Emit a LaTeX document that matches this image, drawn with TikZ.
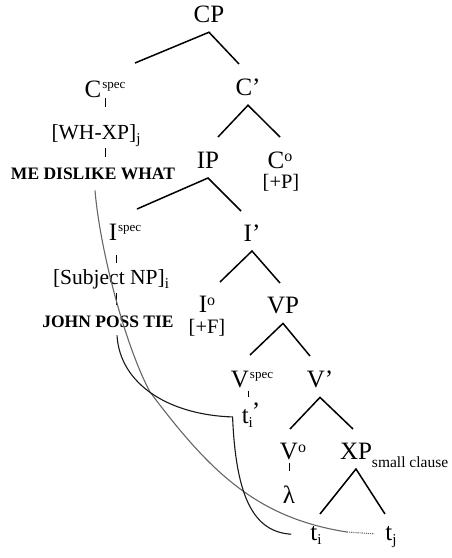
\documentclass[tikz,border=0pt]{standalone}
\usepackage{fontspec}
\setmainfont{Liberation Serif}
\usetikzlibrary{positioning}
\usetikzlibrary{calc}
\tikzset{>=stealth}
\tikzstyle{cat} = [inner sep=0pt,
anchor=base,
font=\fontsize{25}{27}\selectfont]
\tikzstyle{phrase} = [cat,
outer ysep=10pt]
\tikzstyle{lex} = [inner sep=0pt,
anchor=base,
font=\fontsize{21.5}{23}\selectfont]
\tikzstyle{gloss} = [inner sep=0pt,
anchor=base,
font=\fontsize{17.5}{19}\selectfont\bfseries]
\tikzstyle{feat} = [inner sep=0pt,
anchor=base,
font=\fontsize{20.5}{22}\selectfont]
\newcommand{\catspec}[1]{#1\kern1pt\raisebox{8.5pt}{\fontsize{13}{13}\selectfont spec}}
\newcommand{\catzero}[1]{#1\raisebox{7pt}{\fontsize{16}{16}\selectfont o}}
\newcommand{\idx}[1]{\raisebox{-4.5pt}{\fontsize{15}{15}\selectfont #1}}

\begin{document}
\begin{tikzpicture}[x=1pt, y=-1pt,
	stem/.style={draw, line width=1pt},
	branch/.style={draw, line width=1.5pt},
	movei/.style={draw, line width=1.1pt, black!90},
	movej/.style={draw, line width=1.1pt, black!60}]
	\useasboundingbox (0,0) rectangle (452,558);
	%% Categories
	\node [phrase] (CP) at (209,22) {CP};
	\node [cat] (Cspec) at (105,97) {\catspec{C}};
	\node [phrase] (Cbar) at (248,95) {C’};
	\node [phrase] (IP) at (208,168) {IP};
	\node [cat] (Czero) at (280,168) {\catzero{C}};
	\node [feat] (Pfeat) at (281,188) {[+P]};
	\node [cat] (Ispec) at (125,240) {\catspec{I}};
	\node [phrase] (Ibar) at (252,241) {I’};
	\node [cat] (Izero) at (207,312) {\catzero{I}};
	\node [feat] (Ffeat) at (207,333) {[+F]};
	\node [phrase] (VP) at (283,313) {VP};
	\node [cat] (Vspec) at (252,387) {\catspec{V}};
	\node [phrase] (Vbar) at (320,387) {V’};
	\node [cat] (Vzero) at (293,459) {\catzero{V}};
	\node [phrase] (XP) at (356,459) {XP\rlap{\raisebox{-8pt}[0pt][0pt]{\fontsize{15.5}{15.5}\selectfont small clause}}};
	%% Lexical material and traces
	\node [lex] (whxp) at (96,139) {[WH-XP]\idx{j}};
	\node [gloss] (wh-gloss) at (93,179) {ME DISLIKE WHAT};
	\node [lex] (subj) at (111,284) {[Subject NP]\idx{i}};
	\node [gloss] (subj-gloss) at (108,327) {JOHN POSS TIE};
	\node [cat] (ti-int) at (251,423) {t\idx{i}\kern-1pt\raisebox{4pt}{’}};
	\node [cat] (lambda) at (289,503) {λ};
	\node [cat] (ti) at (316,540) {t\idx{i}};
	\node [cat] (tj) at (391,540) {t\idx{j}};
	%% Branch feet
	\coordinate (CP-l) at (135,63);
	\coordinate (CP-r) at (239,64);
	\coordinate (Cbar-l) at (218,137);
	\coordinate (Cbar-r) at (280,137);
	\coordinate (IP-l) at (137,209);
	\coordinate (IP-r) at (241,211);
	\coordinate (Ibar-l) at (220,282);
	\coordinate (Ibar-r) at (280,283);
	\coordinate (VP-l) at (250,355);
	\coordinate (VP-r) at (310,356);
	\coordinate (Vbar-l) at (290,429);
	\coordinate (Vbar-r) at (353,429);
	\coordinate (XP-l) at (320,514);
	\coordinate (XP-r) at (385,514);
	%% Branches
	\draw [branch] (CP-l) -- (CP.south) -- (CP-r);
	\draw [branch] (Cbar-l) -- (Cbar.south) -- (Cbar-r);
	\draw [branch] (IP-l) -- (IP.south) -- (IP-r);
	\draw [branch] (Ibar-l) -- (Ibar.south) -- (Ibar-r);
	\draw [branch] (VP-l) -- (VP.south) -- (VP-r);
	\draw [branch] (Vbar-l) -- (Vbar.south) -- (Vbar-r);
	\draw [branch] (XP-l) -- (XP.south) -- (XP-r);
	%% Stems
	\draw [stem, shorten <=1pt, shorten >=17pt] (Cspec.south) -- (Cspec.south |- whxp.north);
	\draw [stem, shorten <=1pt, shorten >=10pt] (whxp.south -| Cspec) -- (wh-gloss.north -| Cspec);
	\draw [stem, shorten <=15pt, shorten >=6pt] ($(Ispec.south)+(-9,0)$) -- ($(Ispec.south |- subj.north)+(-9,0)$);
	\draw [stem, shorten <=4pt, shorten >=10pt] ($(subj.south -| Ispec)+(-9,0)$) -- ($(subj-gloss.north -| Ispec)+(-9,0)$);
	\draw [stem, shorten <=3pt, shorten >=5pt] ($(Vspec.south)+(-4,0)$) -- ($(Vspec.south |- ti-int.north)+(-4,0)$);
	\draw [stem, shorten <=3pt, shorten >=14pt] ($(Vzero.south)+(-4,0)$) -- ($(Vzero.south |- lambda.north)+(-4,0)$);
	%% Movement of j
	\draw [movej] ($(wh-gloss.south)+(2,11)$) .. controls (100,250) and (125,345) .. (150,392)
		.. controls (210,472) and (257,518) .. (347,532) coordinate (j-end);
	\draw [movej, densely dotted] (j-end) -- ($(tj.west)+(-11,-3)$);
	%% Movement of i
	\draw [movei] ($(subj-gloss.south)+(9,8)$) .. controls (120,385) and (170,415) .. ($(ti-int.west)+(-9,2)$)
		.. controls (236,500) and (255,532) .. ($(ti.west)+(-19,-1)$);
\end{tikzpicture}
\end{document}
